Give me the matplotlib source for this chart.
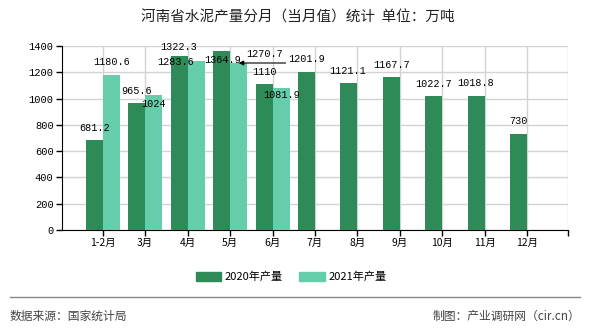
import matplotlib
matplotlib.use("Agg")
import matplotlib.pyplot as plt
from matplotlib.patches import Patch
import numpy as np

plt.rcParams['font.family'] = ['Noto Sans CJK SC', 'DejaVu Sans']

categories = ["1-2月", "3月", "4月", "5月", "6月", "7月", "8月", "9月", "10月", "11月", "12月"]
values_2020 = [681.2, 965.6, 1322.3, 1364.9, 1110, 1201.9, 1121.1, 1167.7, 1022.7, 1018.8, 730]
values_2021 = [1180.6, 1024, 1283.6, 1270.7, 1081.9]
labels_2020 = ["681.2", "965.6", "1322.3", "1364.9", "1110", "1201.9", "1121.1", "1167.7", "1022.7", "1018.8", "730"]
labels_2021 = ["1180.6", "1024", "1283.6", "1270.7", "1081.9"]
series_names = ["2020年产量", "2021年产量"]
y_ticks = [0, 200, 400, 600, 800, 1000, 1200, 1400]

# label offsets in pixels (dx, dy up) relative to bar top centre
off_2020 = [(0, 12), (0, 12.5), (-1, 9.5), (0.5, -9.5), (0.5, 12.3), (0, 13),
            (-1, 12), (0.5, 12), (0, 11.7), (-1, 12.7), (0, 13.3)]
off_2021 = [(0, 13), (0, -8.3), (-21, -1), (26, 8.7), (0.5, -7.4)]

c2020 = "#2e8b57"
c2021 = "#66cdaa"

DPI = 100
fig = plt.figure(figsize=(5.9, 3.3), dpi=DPI)
ax = fig.add_axes([62 / 590, 1 - 230 / 330, (568 - 62) / 590, (230 - 46) / 330])

x = np.arange(len(categories))
w = 0.4
ax.bar(x - w / 2, values_2020, width=w, color=c2020, zorder=3)
x21 = np.arange(len(values_2021))
ax.bar(x21 + w / 2, values_2021, width=w, color=c2021, zorder=3)

ax.set_xlim(-0.96, 10.96)
ax.set_ylim(0, 1400)
ax.set_yticks(y_ticks)
ax.set_yticklabels([str(v) for v in y_ticks], family=['Liberation Mono'], fontsize=7.5)
ax.set_xticks(list(x) + [10.96])
ax.set_xticklabels(categories + [""], fontsize=7.5)
ax.tick_params(axis='both', length=4, width=1, color='black', pad=2)

for s in ['top', 'right']:
    ax.spines[s].set_visible(False)
ax.spines['left'].set_color('black')
ax.spines['bottom'].set_color('black')

grid_c = "#d3d3d3"
ax.grid(axis='y', color=grid_c, linewidth=1, zorder=0)
for xi in list(x) + [10.96]:
    ax.axvline(xi, color=grid_c, linewidth=1, zorder=0)

px = 72.0 / DPI
lab_font = dict(family=['Liberation Mono'], fontsize=7.3, color='black', ha='center', va='center')
for i, (v, t) in enumerate(zip(values_2020, labels_2020)):
    dx, dy = off_2020[i]
    ax.annotate(t, (i - w / 2, v), xytext=(dx * px, dy * px), textcoords='offset points', zorder=5, **lab_font)
for i, (v, t) in enumerate(zip(values_2021, labels_2021)):
    dx, dy = off_2021[i]
    ax.annotate(t, (i + w / 2, v), xytext=(dx * px, dy * px), textcoords='offset points', zorder=5, **lab_font)

# leader arrow for the 5月 2021 label (horizontal line ending in an arrowhead)
ax.annotate("", xy=(3 + w / 2, values_2021[3]), xytext=(47 * px, 0), textcoords='offset points',
            arrowprops=dict(arrowstyle='-|>', color='black', lw=0.8, mutation_scale=7,
                            shrinkA=0, shrinkB=0), zorder=6)

fig.text(298 / 590, 1 - 18 / 330, "河南省水泥产量分月（当月值）统计  单位：万吨", ha='center', va='center',
         fontsize=10.5, color='#222222')

handles = [Patch(color=c2020), Patch(color=c2021)]
fig.legend(handles, series_names, loc='center', bbox_to_anchor=(291 / 590, 1 - 277 / 330), ncol=2,
           frameon=False, fontsize=8, handlelength=2.3, handleheight=0.9, columnspacing=1.5,
           handletextpad=0.3)

fig.add_artist(plt.Line2D([10 / 590, 580 / 590], [1 - 297 / 330, 1 - 297 / 330], color='#888888', lw=1))
fig.text(10 / 590, 1 - 316 / 330, "数据来源：国家统计局", ha='left', va='center', fontsize=8.5, color='#444444')
fig.text(580 / 590, 1 - 316 / 330, "制图：产业调研网（cir.cn）", ha='right', va='center', fontsize=8.5, color='#444444')

fig.savefig("out.png", dpi=DPI)
